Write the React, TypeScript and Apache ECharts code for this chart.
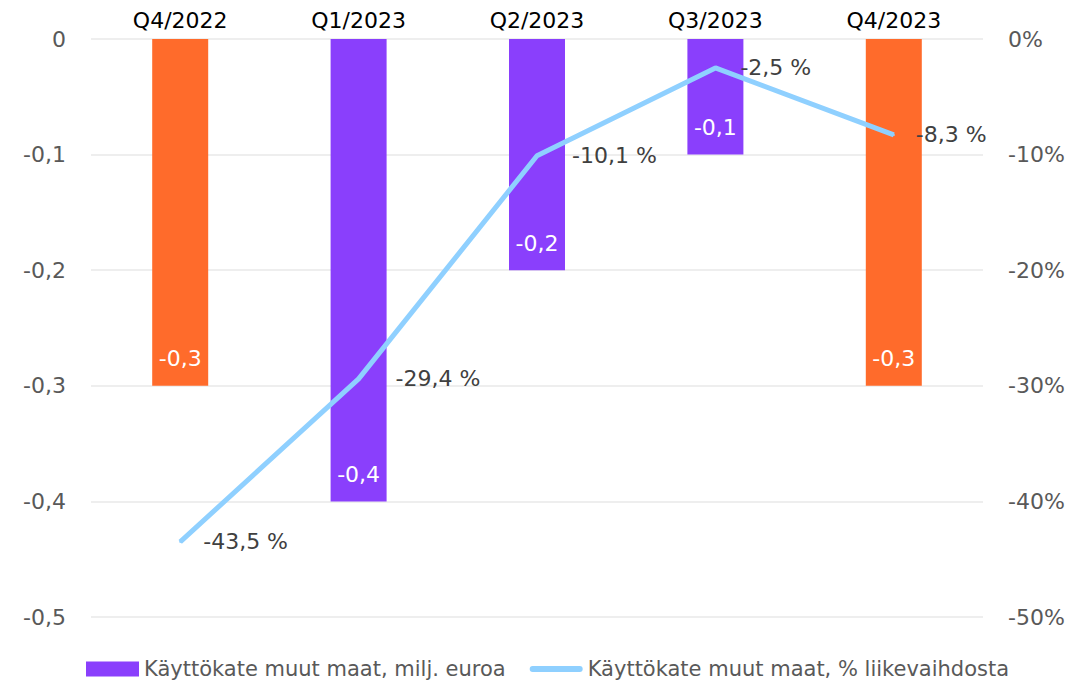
import React, { useEffect, useRef } from "react";
import * as echarts from "echarts";

const categories = ["Q4/2022", "Q1/2023", "Q2/2023", "Q3/2023", "Q4/2023"];
const ebitdaValues = [-0.3, -0.4, -0.2, -0.1, -0.3];
const barColors = ["#FF6B2B", "#8A3FFC", "#8A3FFC", "#8A3FFC", "#FF6B2B"];
const marginPct = [-43.5, -29.4, -10.1, -2.5, -8.3];
const lineLabelDistance = [22, 36, 34, 24, 21];
const seriesNames = ["Käyttökate muut maat, milj. euroa", "Käyttökate muut maat, % liikevaihdosta"];

const FONT = "'DejaVu Sans', sans-serif";
const fmt = (v: number, d: number) => v.toFixed(d).replace(".", ",");

export default function App() {
  const ref = useRef<HTMLDivElement>(null);
  useEffect(() => {
    const chart = echarts.init(ref.current!, null, { renderer: "svg" });
    chart.setOption({
      animation: false,
      textStyle: { fontFamily: FONT },
      grid: { left: 91, right: 109, top: 39, bottom: 64 },
      legend: {
        top: 657,
        left: 86,
        padding: 0,
        itemGap: 24,
        itemWidth: 53,
        itemHeight: 15,
        textStyle: { fontSize: 21, lineHeight: 24, color: "#595959", fontFamily: FONT },
        data: [
          { name: seriesNames[0], icon: "rect", itemStyle: { color: "#8A3FFC" } },
          {
            name: seriesNames[1],
            icon: "path://M3,0 H51 A3,3 0 0 1 51,6 H3 A3,3 0 0 1 3,0 Z",
            itemStyle: { color: "#8FD0FF" },
          },
        ],
      },
      xAxis: {
        type: "category",
        position: "top",
        data: categories,
        axisLine: { show: false },
        axisTick: { show: false },
        axisLabel: { color: "#000", fontSize: 22, margin: 8, fontFamily: FONT },
      },
      yAxis: [
        {
          type: "value",
          min: -0.5,
          max: 0,
          interval: 0.1,
          axisLabel: {
            color: "#595959",
            fontSize: 22,
            margin: 25,
            fontFamily: FONT,
            formatter: (v: number) => (Math.abs(v) < 1e-9 ? "0" : fmt(v, 1)),
          },
          splitLine: { lineStyle: { color: "#eeeeee", width: 2 } },
          axisLine: { show: false },
          axisTick: { show: false },
        },
        {
          type: "value",
          min: -50,
          max: 0,
          interval: 10,
          axisLabel: {
            color: "#595959",
            fontSize: 22,
            margin: 25,
            fontFamily: FONT,
            formatter: (v: number) => `${Math.round(v)}%`,
          },
          splitLine: { show: false },
          axisLine: { show: false },
          axisTick: { show: false },
        },
      ],
      series: [
        {
          name: seriesNames[0],
          type: "bar",
          barWidth: 56,
          yAxisIndex: 0,
          data: ebitdaValues.map((v, i) => ({ value: v, itemStyle: { color: barColors[i] } })),
          itemStyle: { color: "#8A3FFC" },
          label: {
            show: true,
            position: "insideBottom",
            distance: 16,
            color: "#fff",
            fontSize: 22,
            fontFamily: FONT,
            formatter: (p: any) => fmt(p.value, 1),
          },
        },
        {
          name: seriesNames[1],
          type: "line",
          yAxisIndex: 1,
          data: marginPct.map((v, i) => ({
            value: v,
            label: { distance: lineLabelDistance[i] },
          })),
          showSymbol: true,
          symbol: "circle",
          symbolSize: 2,
          lineStyle: { color: "#8FD0FF", width: 5 },
          itemStyle: { color: "#8FD0FF" },
          label: {
            show: true,
            position: "right",
            color: "#404040",
            fontSize: 22,
            fontFamily: FONT,
            formatter: (p: any) => `${fmt(p.value, 1)} %`,
          },
        },
      ],
    });
    return () => chart.dispose();
  }, []);
  return (
    <div
      ref={ref}
      style={{ position: "absolute", left: 0, top: 0, width: 1092, height: 681 }}
    />
  );
}
